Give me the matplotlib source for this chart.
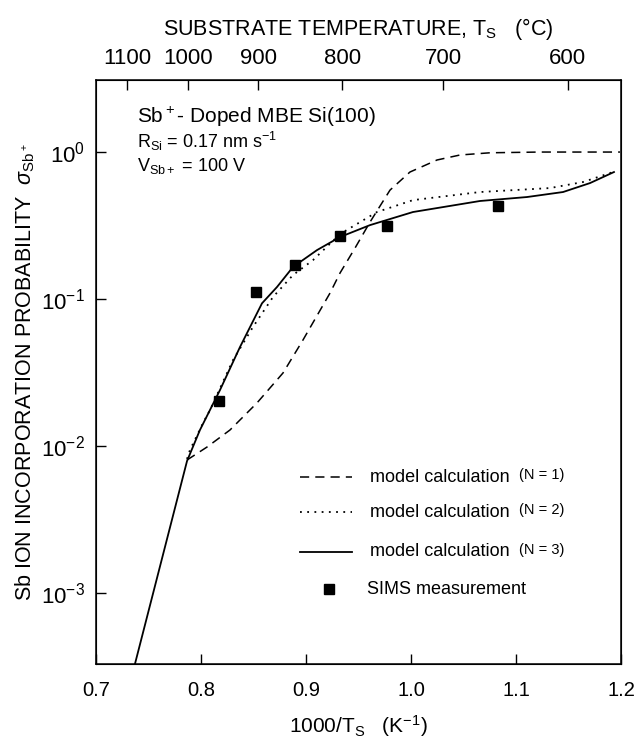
import numpy as np
import matplotlib
matplotlib.use("Agg")
import matplotlib.pyplot as plt
from matplotlib.ticker import LogLocator, NullLocator

plt.rcParams['font.family'] = ['Liberation Sans', 'DejaVu Sans']
plt.rcParams['mathtext.fontset'] = 'custom'
plt.rcParams['mathtext.rm'] = 'Liberation Sans'
plt.rcParams['mathtext.it'] = 'Liberation Sans:italic'
plt.rcParams['mathtext.sf'] = 'Liberation Sans'

# SIMS measurements (1000/Ts, sigma)
sims_x = [0.817, 0.852, 0.890, 0.932, 0.977, 1.083]
sims_y = [0.0202, 0.111, 0.170, 0.268, 0.314, 0.43]

# model N = 1 (dashed), log10 of sigma
n1_x = [0.7867, 0.8057, 0.8276, 0.8533, 0.8781, 0.8971, 0.9229, 0.9324, 0.9467,
        0.961, 0.98, 0.999, 1.0248, 1.0467, 1.0752, 1.1229, 1.199]
n1_log = [-2.095, -2.007, -1.891, -1.707, -1.503, -1.279, -0.959, -0.823, -0.653,
          -0.476, -0.259, -0.136, -0.054, -0.020, -0.005, 0.0, 0.0]

# model N = 2 (dotted)
n2_x = [0.7867, 0.7895, 0.8019, 0.8086, 0.8305, 0.8495, 0.8686, 0.8876, 0.9067,
        0.9324, 0.9676, 1.0019, 1.0657, 1.1324, 1.1638, 1.1924]
n2_log = [-2.088, -2.027, -1.844, -1.755, -1.415, -1.190, -0.986, -0.837, -0.735,
          -0.558, -0.408, -0.327, -0.272, -0.245, -0.204, -0.136]

# model N = 3 (solid)
n3_x = [0.7371, 0.7867, 0.799, 0.8181, 0.8371, 0.8581, 0.8724, 0.8876, 0.9105,
        0.9324, 0.961, 1.0019, 1.0657, 1.1105, 1.1448, 1.1705, 1.1933]
n3_log = [-3.483, -2.102, -1.891, -1.619, -1.327, -1.029, -0.918, -0.782, -0.667,
          -0.578, -0.497, -0.408, -0.333, -0.306, -0.272, -0.211, -0.136]

temps_c = [1100, 1000, 900, 800, 700, 600]
kelvin_offset = 270  # as drawn on the original top scale
x_ticks = [0.7, 0.8, 0.9, 1.0, 1.1, 1.2]

fig = plt.figure(figsize=(6.34, 7.43), dpi=100)
ax = fig.add_axes([0.1514, 0.1063, 0.8281, 0.786])

ax.plot(n1_x, 10 ** np.array(n1_log), color='black', lw=1.1, dashes=(6, 4))
ax.plot(n2_x, 10 ** np.array(n2_log), color='black', lw=1.3, linestyle=(0, (1, 3)))
ax.plot(n3_x, 10 ** np.array(n3_log), color='black', lw=1.3)
ax.plot(sims_x, sims_y, linestyle='none', marker='s', ms=6.5, color='black')

ax.set_yscale('log')
ax.set_xlim(0.7, 1.2)
ax.set_ylim(10 ** -3.483, 10 ** 0.49)
ax.yaxis.set_major_locator(LogLocator(base=10, numticks=10))
ax.yaxis.set_minor_locator(NullLocator())
ax.set_xticks(x_ticks)
ax.set_xticklabels([f"{v:.1f}" for v in x_ticks])
ax.tick_params(direction='in', length=7, width=1, pad=12)
ax.tick_params(axis='x', labelsize=14.5)
ax.tick_params(axis='y', labelsize=16, pad=8)
for s in ax.spines.values():
    s.set_linewidth(1.1)

ax.set_xlabel(r'1000/T$_\mathrm{S}$   (K$^{-1}$)', fontsize=15, labelpad=10)
ax.set_ylabel(r'Sb ION INCORPORATION PROBABILITY  $\sigma_{\mathrm{Sb}^+}$',
              fontsize=15.5, labelpad=3)

# top temperature axis
top = ax.twiny()
top.set_xlim(ax.get_xlim())
top.set_xticks([1000.0 / (t + kelvin_offset) for t in temps_c])
top.set_xticklabels([str(t) for t in temps_c])
top.tick_params(direction='in', length=7, width=1, labelsize=16, pad=8)
top.set_xlabel(r'SUBSTRATE TEMPERATURE, T$_\mathrm{S}$   ($\degree$C)', fontsize=15.5, labelpad=9)

# annotations
ax.text(0.078, 0.927, r'Sb$^+$- Doped MBE Si(100)', transform=ax.transAxes, fontsize=15)
ax.text(0.078, 0.883, r'R$_\mathrm{Si}$ = 0.17 nm s$^{-1}$', transform=ax.transAxes, fontsize=13)
ax.text(0.078, 0.845, r'V$_{\mathrm{Sb}+}$ = 100 V', transform=ax.transAxes, fontsize=13)

# legend drawn by hand
rows = [0.32, 0.26, 0.192, 0.128]
styles = [dict(dashes=(6, 4), lw=1.1), dict(linestyle=(0, (1, 3)), lw=1.3), dict(lw=1.3)]
labels = ['(N = 1)', '(N = 2)', '(N = 3)']
for yy, st, lab in zip(rows[:3], styles, labels):
    ax.plot([0.389, 0.488], [yy, yy], color='black', transform=ax.transAxes, **st)
    ax.text(0.522, yy, 'model calculation', transform=ax.transAxes, fontsize=13, va='center')
    ax.text(0.805, yy + 0.003, lab, transform=ax.transAxes, fontsize=10.5, va='center')
ax.plot([0.444], [rows[3]], marker='s', ms=6.5, color='black', transform=ax.transAxes)
ax.text(0.517, rows[3], 'SIMS measurement', transform=ax.transAxes, fontsize=13, va='center')

fig.savefig('out.png', dpi=100)
